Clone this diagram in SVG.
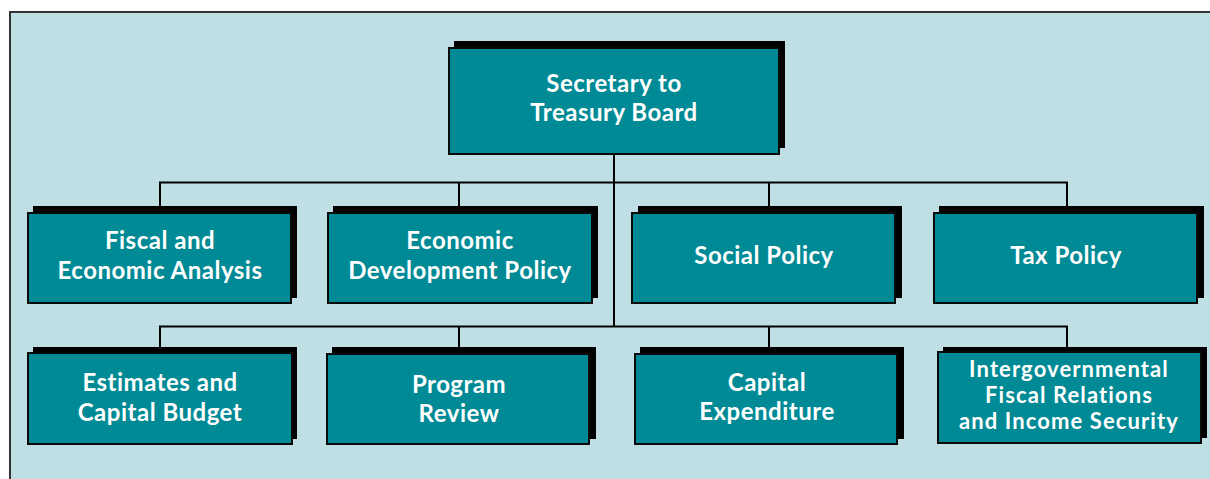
<svg xmlns="http://www.w3.org/2000/svg" width="1210" height="479" viewBox="0 0 1210 479">
  <style>
    .shadow { fill: #000; }
    .box { fill: #008A95; stroke: #0a0a0a; stroke-width: 2; }
    .label { fill: #fff; font-family: Lato, "Open Sans", sans-serif; font-weight: 700; font-size: 24px; letter-spacing: 0.5px; text-anchor: middle; }
    .label.dense { font-size: 22px; letter-spacing: 1.1px; }
    .link { stroke: #000; stroke-width: 2; fill: none; }
  </style>
  <rect x="0" y="0" width="1210" height="479" fill="#fff"/>
  <rect x="10" y="12" width="1202" height="470" fill="#C0DFE4" stroke="#333" stroke-width="2"/>

  <g id="connectors">
    <line class="link" x1="614" y1="154" x2="614" y2="327"/>
    <polyline class="link" points="160,207 160,182.5 1067,182.5 1067,207"/>
    <line class="link" x1="459" y1="182" x2="459" y2="207"/>
    <line class="link" x1="769" y1="182" x2="769" y2="207"/>
    <polyline class="link" points="160,348 160,326.5 1067,326.5 1067,348"/>
    <line class="link" x1="459" y1="326" x2="459" y2="348"/>
    <line class="link" x1="769" y1="326" x2="769" y2="348"/>
  </g>

  <g id="secretary">
    <rect class="shadow" x="454" y="41" width="331" height="107"/>
    <rect class="box" x="449" y="48" width="330" height="106"/>
    <text class="label" x="614" y="92">Secretary to</text>
    <text class="label" x="614" y="121">Treasury Board</text>
  </g>

  <g id="fiscal-economic-analysis">
    <rect class="shadow" x="33" y="206" width="264" height="92"/>
    <rect class="box" x="28" y="213" width="263" height="90"/>
    <text class="label" x="160" y="249">Fiscal and</text>
    <text class="label" x="160" y="279">Economic Analysis</text>
  </g>

  <g id="economic-development-policy">
    <rect class="shadow" x="333" y="206" width="265" height="92"/>
    <rect class="box" x="328" y="213" width="264" height="90"/>
    <text class="label" x="460" y="249">Economic</text>
    <text class="label" x="460" y="279">Development Policy</text>
  </g>

  <g id="social-policy">
    <rect class="shadow" x="638" y="206" width="264" height="92"/>
    <rect class="box" x="632" y="213" width="263" height="90"/>
    <text class="label" x="764" y="264">Social Policy</text>
  </g>

  <g id="tax-policy">
    <rect class="shadow" x="939" y="206" width="265" height="92"/>
    <rect class="box" x="934" y="213" width="263" height="90"/>
    <text class="label" x="1066" y="264">Tax Policy</text>
  </g>

  <g id="estimates-capital-budget">
    <rect class="shadow" x="33" y="347" width="264" height="92"/>
    <rect class="box" x="28" y="353" width="264" height="91"/>
    <text class="label" x="160" y="391">Estimates and</text>
    <text class="label" x="160" y="421">Capital Budget</text>
  </g>

  <g id="program-review">
    <rect class="shadow" x="332" y="347" width="264" height="92"/>
    <rect class="box" x="327" y="354" width="262" height="90"/>
    <text class="label" x="459" y="393">Program</text>
    <text class="label" x="459" y="422">Review</text>
  </g>

  <g id="capital-expenditure">
    <rect class="shadow" x="640" y="347" width="264" height="92"/>
    <rect class="box" x="635" y="354" width="262" height="90"/>
    <text class="label" x="767" y="391">Capital</text>
    <text class="label" x="767" y="420">Expenditure</text>
  </g>

  <g id="intergovernmental-fiscal-relations">
    <rect class="shadow" x="943" y="347" width="264" height="91"/>
    <rect class="box" x="938" y="352" width="263" height="91"/>
    <text class="label dense" x="1069" y="377">Intergovernmental</text>
    <text class="label dense" x="1069" y="403">Fiscal Relations</text>
    <text class="label dense" x="1069" y="429">and Income Security</text>
  </g>
</svg>
